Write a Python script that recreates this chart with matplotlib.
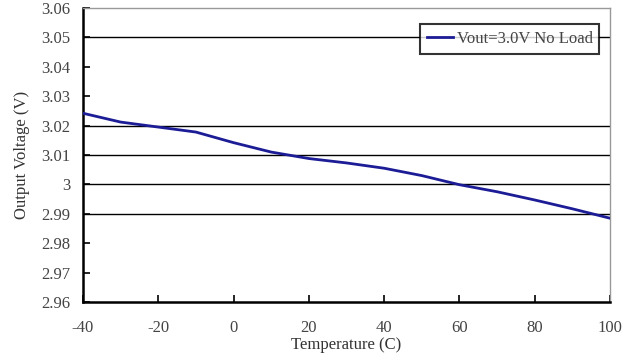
import matplotlib
matplotlib.use("Agg")
import matplotlib.pyplot as plt

temps = [-40, -30, -20, -10, 0, 10, 20, 30, 40, 50, 60, 70, 80, 90, 100]
vout = [3.0242, 3.0212, 3.0195, 3.0178, 3.0142, 3.0110, 3.0088, 3.0073, 3.0055,
        3.0030, 2.9999, 2.9975, 2.9947, 2.9917, 2.9885]
series_label = "Vout=3.0V No Load"
grid_values = [3.05, 3.02, 3.01, 3.00, 2.99]
yticks = [2.96, 2.97, 2.98, 2.99, 3.00, 3.01, 3.02, 3.03, 3.04, 3.05, 3.06]
ytick_labels = ["2.96", "2.97", "2.98", "2.99", "3", "3.01", "3.02", "3.03", "3.04", "3.05", "3.06"]
xticks = [-40, -20, 0, 20, 40, 60, 80, 100]

plt.rcParams['font.family'] = ['Liberation Serif', 'DejaVu Serif']

fig = plt.figure(figsize=(6.4, 3.59), dpi=100)
ax = fig.add_axes([83/640, 1 - 302/359, 527/640, 294/359])

for g in grid_values:
    ax.axhline(g, color='black', lw=1.0, zorder=1)

ax.plot(temps, vout, color='#1c1c96', lw=2.0, label=series_label, zorder=3)

ax.set_xlim(-40, 100)
ax.set_ylim(2.96, 3.06)
ax.set_xticks(xticks)
ax.set_xticklabels([str(t) for t in xticks])
ax.set_yticks(yticks)
ax.set_yticklabels(ytick_labels)
ax.tick_params(axis='both', direction='in', length=5, width=1.2, color='black',
               labelsize=12, labelcolor='#444444')
ax.tick_params(axis='x', pad=13)
ax.tick_params(axis='y', pad=9)

for side in ['left', 'bottom']:
    ax.spines[side].set_color('black')
    ax.spines[side].set_linewidth(1.8)
for side in ['top', 'right']:
    ax.spines[side].set_color('#999999')
    ax.spines[side].set_linewidth(1.0)

ax.set_xlabel("Temperature (C)", fontsize=12, color='#333333', labelpad=1)
ax.set_ylabel("Output Voltage (V)", fontsize=12, color='#333333', labelpad=8)

leg = ax.legend(loc='upper right', bbox_to_anchor=(0.98, 0.945), fontsize=12,
                frameon=True, fancybox=False, handlelength=1.6, handletextpad=0.2,
                borderpad=0.4, borderaxespad=0)
leg.get_frame().set_edgecolor('black')
leg.get_frame().set_linewidth(1.5)
for t in leg.get_texts():
    t.set_color('#444444')

fig.savefig("out.png", dpi=100)
